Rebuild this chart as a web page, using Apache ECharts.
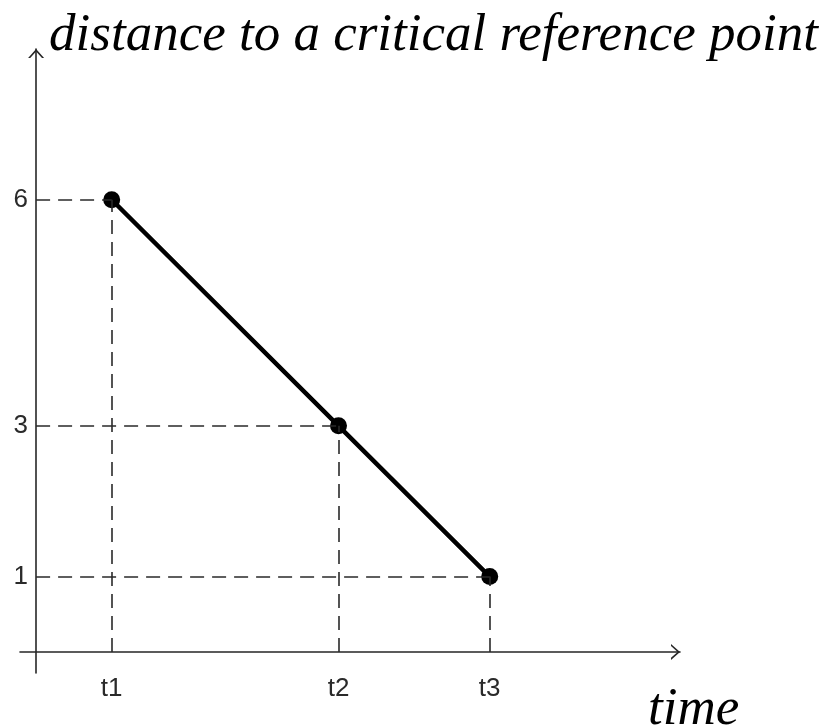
<!DOCTYPE html>
<html>
<head>
<meta charset="utf-8">
<script src="https://cdn.jsdelivr.net/npm/echarts@6/dist/echarts.min.js"></script>
<style>
  html, body { margin: 0; padding: 0; background: #fff; }
  #chart { width: 825px; height: 728px; }
</style>
</head>
<body>
<div id="chart"></div>
<script>
// Time instants (position on the time axis) and their labels
const timeLabels = ['t1', 't2', 't3'];
const timeValues = [1, 4, 6];
// Distance to the critical reference point at each instant
const distances = [6, 3, 1];
// Values that get a label on the distance axis
const distanceTicks = [1, 3, 6];

const points = timeValues.map((t, i) => [t, distances[i]]);

// Dashed projection lines from each point to both axes
const guides = [];
points.forEach(([t, d]) => {
  guides.push([{ coord: [0, d] }, { coord: [t, d] }]);
  guides.push([{ coord: [t, 0] }, { coord: [t, d] }]);
});

// Open chevron used as the arrow head at the end of each axis
const chevron = 'path://M0,0L8,9L5.9,9L0,2.4L-5.9,9L-8,9Z';
const axisColor = '#262626';
const labelColor = '#2a2a2a';

const axisLine = {
  onZero: true,
  symbol: ['none', chevron],
  symbolSize: [16, 9],
  symbolOffset: [0, -4.5],
  lineStyle: { color: axisColor, width: 1.6 }
};

const nameStyle = {
  fontFamily: 'Liberation Serif',
  fontStyle: 'italic',
  fontSize: 53,
  color: '#000'
};

const chart = echarts.init(document.getElementById('chart'), null, { renderer: 'canvas' });

chart.setOption({
  animation: false,
  backgroundColor: '#fff',
  grid: { left: 20, right: 145, top: 49, bottom: 55, containLabel: false, outerBoundsMode: 'none' },
  xAxis: {
    type: 'value',
    min: -0.213,
    max: 8.517,
    axisLine: axisLine,
    axisTick: { show: false },
    splitLine: { show: false },
    axisLabel: {
      customValues: timeValues,
      formatter: v => timeLabels[timeValues.indexOf(v)],
      color: labelColor,
      fontFamily: 'Liberation Sans',
      fontSize: 26,
      margin: 3
    },
    name: 'time',
    nameLocation: 'end',
    nameGap: -32,
    nameTextStyle: Object.assign({}, nameStyle, {
      align: 'left',
      verticalAlign: 'top',
      padding: [32, 0, 0, 0]
    })
  },
  yAxis: {
    type: 'value',
    min: -0.28,
    max: 8.0,
    axisLine: axisLine,
    axisTick: { show: false },
    splitLine: { show: false },
    axisLabel: {
      customValues: distanceTicks,
      color: labelColor,
      fontFamily: 'Liberation Sans',
      fontSize: 26,
      margin: -8
    },
    name: 'distance to a critical reference point',
    nameLocation: 'end',
    nameGap: -14,
    nameTextStyle: Object.assign({}, nameStyle, {
      align: 'left',
      padding: [0, 0, 0, 13]
    })
  },
  series: [
    {
      type: 'line',
      data: [],
      z: 1,
      silent: true,
      markLine: {
        silent: true,
        symbol: ['none', 'none'],
        label: { show: false },
        lineStyle: { type: [14, 8], color: '#2a2a2a', width: 1.6 },
        data: guides
      }
    },
    {
      type: 'line',
      data: points,
      z: 3,
      symbol: 'circle',
      symbolSize: 17,
      itemStyle: { color: '#000' },
      lineStyle: { color: '#000', width: 4.5 }
    }
  ]
});
</script>
</body>
</html>
